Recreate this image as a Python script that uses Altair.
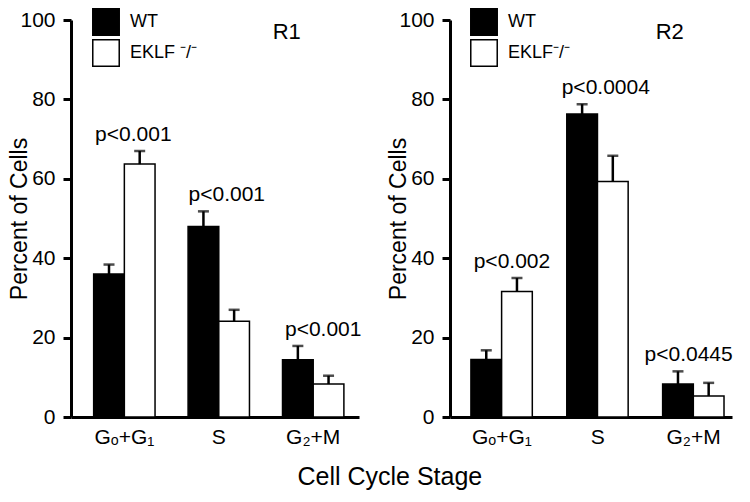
import altair as alt
import pandas as pd

FONT = "Liberation Sans"

stages = ["Gₒ+G₁", "S", "G₂+M"]
genotypes = ["WT", "EKLF"]

r1_wt = [36.0, 48.0, 14.4]
r1_wt_sem = [2.4, 3.8, 3.5]
r1_ko = [63.7, 24.1, 8.3]
r1_ko_sem = [3.3, 2.9, 2.1]
r1_p = ["p<0.001", "p<0.001", "p<0.001"]

r2_wt = [14.5, 76.3, 8.3]
r2_wt_sem = [2.3, 2.5, 3.2]
r2_ko = [31.6, 59.3, 5.3]
r2_ko_sem = [3.4, 6.5, 3.3]
r2_p = ["p<0.002", "p<0.0004", "p<0.0445"]

y_ticks = [0, 20, 40, 60, 80, 100]


def panel(name, wt, wt_sem, ko, ko_sem, pv, width, ko_label, name_dx, scale_opts,
          leg_x, p_dx):
    rows = []
    for i, s in enumerate(stages):
        rows.append(dict(stage=s, genotype="WT", value=wt[i], top=wt[i] + wt_sem[i]))
        rows.append(dict(stage=s, genotype="EKLF", value=ko[i], top=ko[i] + ko_sem[i]))
    bars_df = pd.DataFrame(rows)
    ann_df = pd.DataFrame(dict(
        stage=stages, p=pv,
        y=[max(wt[i] + wt_sem[i], ko[i] + ko_sem[i]) for i in range(len(stages))]))

    xscale = alt.Scale(domain=stages, **scale_opts)
    xenc = alt.X("stage:N", sort=stages, scale=xscale,
                 axis=alt.Axis(title=None, labelAngle=0, ticks=False, domainWidth=3,
                               domainColor="black", labelFontSize=21, labelColor="black",
                               labelPadding=9, labelFont=FONT))
    yscale = alt.Scale(domain=[0, 100])
    yaxis = alt.Axis(title="Percent of Cells", values=y_ticks, tickSize=8, tickWidth=3,
                     tickColor="black", domainWidth=3, domainColor="black", grid=False,
                     labelFontSize=21, labelColor="black", labelPadding=8, labelFont=FONT,
                     titleFontSize=23, titleFontWeight="normal", titleColor="black",
                     titleFont=FONT, titlePadding=-12)
    xoff = alt.XOffset("genotype:N", sort=genotypes,
                       scale=alt.Scale(domain=genotypes, paddingInner=0, paddingOuter=0))

    base = alt.Chart(bars_df)
    bars = base.mark_bar(stroke="black", strokeWidth=1.5).encode(
        x=xenc, xOffset=xoff,
        y=alt.Y("value:Q", scale=yscale, axis=yaxis),
        fill=alt.Fill("genotype:N", sort=genotypes,
                      scale=alt.Scale(domain=genotypes, range=["black", "white"]),
                      legend=alt.Legend(title=None, orient="none", legendX=leg_x, legendY=-12,
                                        symbolType="square", symbolSize=700,
                                        symbolStrokeColor="black", symbolStrokeWidth=1.5,
                                        labelFontSize=18, labelFont=FONT, labelColor="black",
                                        labelOffset=10, rowPadding=-4, padding=0,
                                        labelExpr=f"datum.label == 'EKLF' ? '{ko_label}' : datum.label")),
    )
    err = base.mark_rule(color="black", strokeWidth=2.5).encode(
        x=xenc, xOffset=xoff, y="value:Q", y2="top:Q")
    cap = base.mark_tick(color="black", thickness=2.5, size=11, orient="horizontal").encode(
        x=xenc, xOffset=xoff, y="top:Q")
    layers = [bars, err, cap]
    for i in range(len(stages)):
        layers.append(alt.Chart(ann_df.iloc[[i]]).mark_text(
            dy=-10, dx=p_dx[i], fontSize=21, font=FONT, color="black",
            baseline="alphabetic").encode(x=xenc, y="y:Q", text="p:N"))
    layers.append(alt.Chart(pd.DataFrame({"name": [name]})).mark_text(
        dx=name_dx, fontSize=22, font=FONT, color="black", baseline="middle").encode(
        x=alt.X(datum=stages[1], scale=xscale), y=alt.Y(datum=97), text="name:N"))
    return alt.layer(*layers).properties(width=width, height=397)


left = panel("R1", r1_wt, r1_wt_sem, r1_ko, r1_ko_sem, r1_p, 288, "EKLF ⁻/⁻", 68,
             dict(paddingInner=0.35, paddingOuter=0.2, align=0.6), 21, [9, 8, 10])
right = panel("R2", r2_wt, r2_wt_sem, r2_ko, r2_ko_sem, r2_p, 282, "EKLF⁻/⁻", 72,
              dict(paddingInner=0.353, paddingOuter=0.1475, align=0.74), 20, [10, 8, -5])

chart = alt.hconcat(left, right, spacing=25).resolve_scale(fill="independent").properties(
    title=alt.TitleParams("Cell Cycle Stage", orient="bottom", anchor="middle", dx=19,
                          fontSize=25, fontWeight="normal", font=FONT, color="black",
                          offset=18),
    padding=0,
).configure_view(stroke=None)

chart.save("out.html", embed_options={"renderer": "svg", "actions": False})
